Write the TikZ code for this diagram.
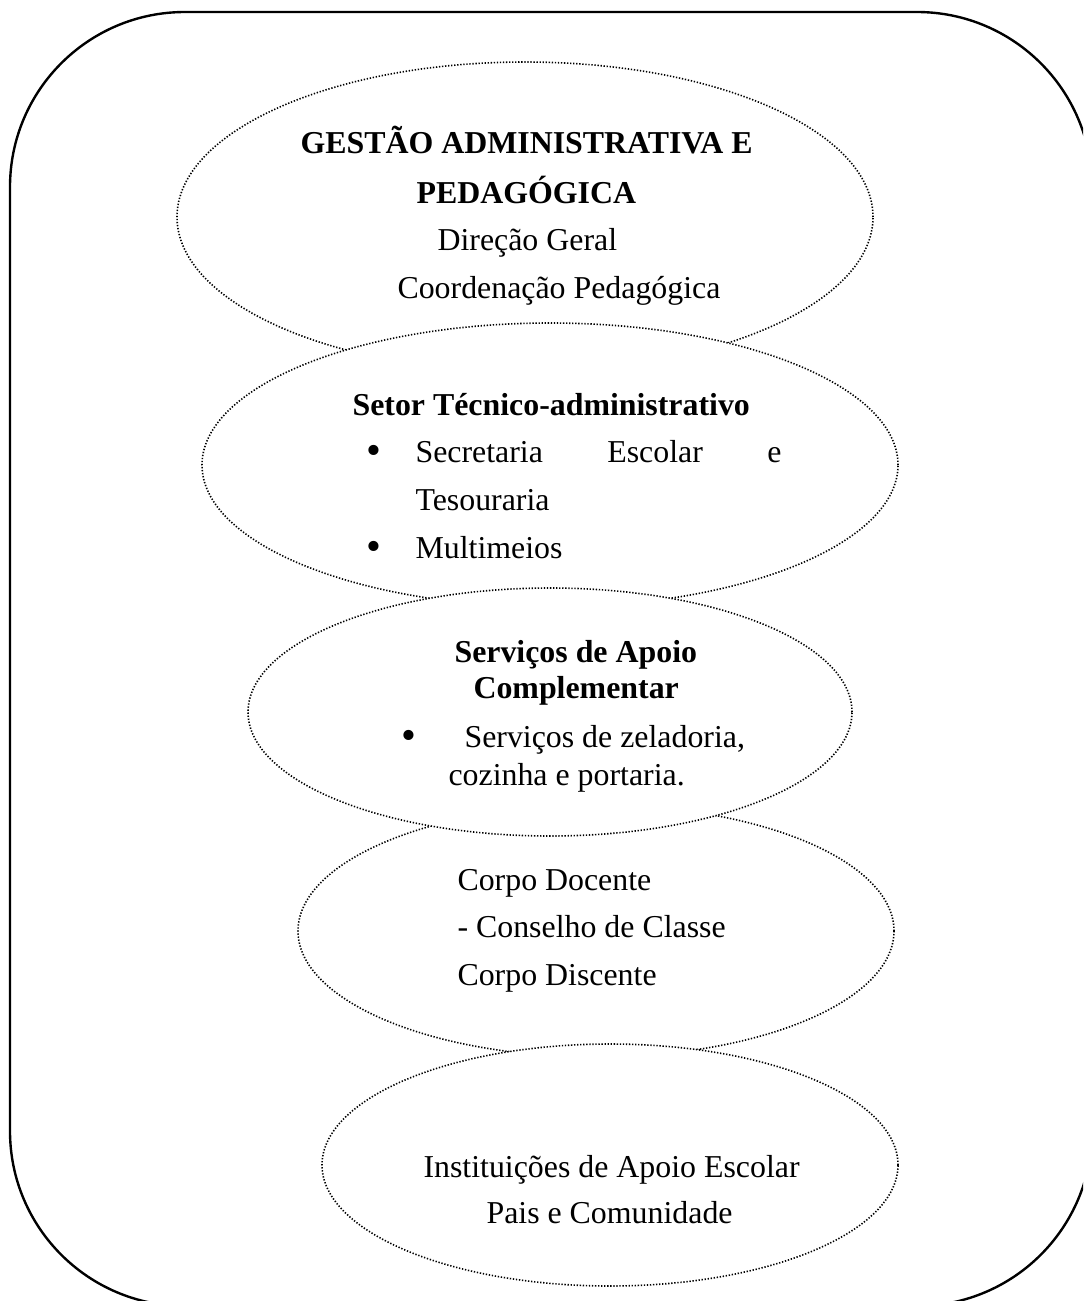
\documentclass[tikz,border=0pt]{standalone}
\usepackage{fontspec}
\setmainfont{Liberation Serif}
\usetikzlibrary{shapes.geometric}
\newcommand{\pu}{0.3766pt}

\begin{document}
\begin{tikzpicture}[x=\pu, y=-\pu,
  oval/.style={ellipse, draw, fill=white, line width=0.6pt, dash pattern=on 0.5pt off 0.65pt, inner sep=0pt},
  txt/.style={anchor=base west, inner sep=0pt, font=\fontsize{12}{14}\selectfont},
  btxt/.style={txt, font=\fontsize{12}{14}\selectfont\bfseries},
  bul/.style={txt, font=\fontsize{16}{16}\selectfont, yshift=-1pt}]
\clip (0,0) rectangle (1083,1301);
\draw[line width=0.9pt, rounded corners=65.9pt] (10,12) rectangle (1092,1306);

% the five ovals, lower ones drawn over upper ones
\node[oval, minimum width=696*\pu, minimum height=310*\pu] (gestao) at (525,217) {};
\node[oval, minimum width=696*\pu, minimum height=284*\pu] (setor) at (550,465) {};
\node[oval, minimum width=596*\pu, minimum height=252*\pu] (corpo) at (596,931) {};
\node[oval, minimum width=604*\pu, minimum height=248*\pu] (apoio) at (550,712) {};
\node[oval, minimum width=576*\pu, minimum height=242*\pu] (inst) at (610,1165) {};

\node[btxt] (g1) at (300,153) {GESTÃO ADMINISTRATIVA E};
\node[btxt] (g2) at (416,203) {PEDAGÓGICA};
\node[txt] (g3) at (437,250) {Direção Geral};
\node[txt] (g4) at (397,298) {Coordenação Pedagógica};

\node[btxt] (s1) at (352,415) {Setor Técnico-administrativo};
\node[bul] (sb1) at (366,462) {\textbullet};
\node[txt] (s2) at (415,462) {\makebox[137.8pt][s]{Secretaria Escolar e}};
\node[txt] (s3) at (415,510) {Tesouraria};
\node[bul] (sb2) at (366,558) {\textbullet};
\node[txt] (s4) at (415,558) {Multimeios};

\node[btxt] (a1) at (454,662) {Serviços de Apoio};
\node[btxt] (a2) at (473,698) {Complementar};
\node[bul] (ab1) at (401,747) {\textbullet};
\node[txt] (a3) at (464,747) {Serviços de zeladoria,};
\node[txt] (a4) at (448,785) {cozinha e portaria.};

\node[txt] (c1) at (457,890) {Corpo Docente};
\node[txt] (c2) at (457,937) {- Conselho de Classe};
\node[txt] (c3) at (457,985) {Corpo Discente};

\node[txt] (i1) at (423,1177) {Instituições de Apoio Escolar};
\node[txt] (i2) at (486,1223) {Pais e Comunidade};
\end{tikzpicture}
\end{document}
